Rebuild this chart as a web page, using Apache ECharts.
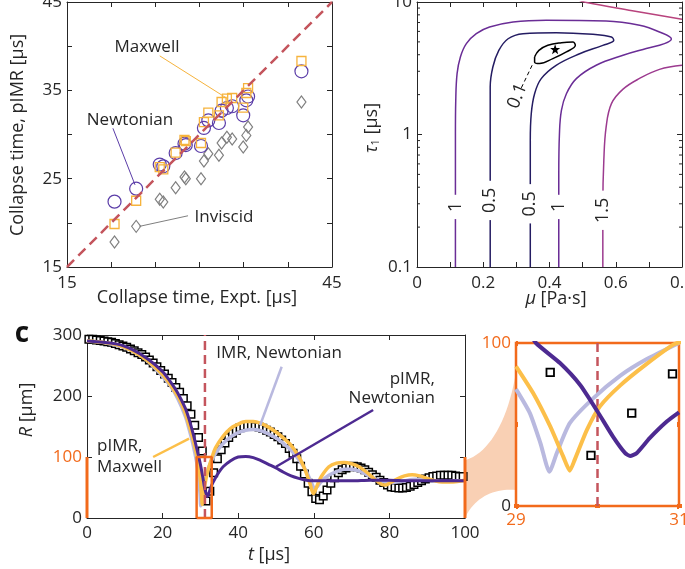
<!DOCTYPE html>
<html>
<head>
<meta charset="utf-8">
<script src="https://cdn.jsdelivr.net/npm/echarts@6/dist/echarts.min.js"></script>
<style>
  html, body { margin: 0; padding: 0; background: #fff; }
  #chart { width: 685px; height: 569px; }
</style>
</head>
<body>
<div id="chart"></div>
<script>
// ---- panel a: collapse times [us] ----
const exptTc      = [20.38, 22.83, 25.5, 25.9, 27.3, 28.3, 28.45, 30.17, 30.5, 31.0, 32.2, 32.5, 33.1, 33.7, 34.95, 35.3, 35.5, 41.54];
const newtonianTc = [22.4, 23.87, 26.6, 26.4, 27.9, 28.96, 28.8, 28.7, 30.74, 31.6, 31.3, 32.7, 33.0, 33.2, 32.17, 33.87, 34.3, 37.15];
const maxwellTc   = [19.87, 22.5, 26.3, 26.06, 27.94, 29.4, 29.25, 29.04, 31.4, 32.47, 32.17, 33.68, 34.06, 34.13, 33.04, 34.7, 35.26, 38.32];
const inviscidTc  = [17.83, 19.6, 22.66, 22.36, 23.98, 25.19, 25.0, 25.0, 27.0, 27.83, 27.64, 29.04, 29.7, 29.5, 28.58, 29.9, 30.85, 33.68];

// ---- panel b: error contours, [mu Pa.s, tau1 us] ----
const contour01 = [[0.355,3.85],[0.368,4.31],[0.395,4.71],[0.436,4.93],[0.471,4.99],[0.478,4.71],[0.451,4.2],[0.41,3.74],[0.37,3.43],[0.355,3.53],[0.355,3.85]];
const contour05 = [[0.221,0.1],[0.221,1.0],[0.221,2.28],[0.229,3.23],[0.247,4.31],[0.275,5.28],[0.32,5.77],[0.42,5.87],[0.531,5.7],[0.587,5.44],[0.594,5.14],[0.561,4.71],[0.491,4.07],[0.42,3.33],[0.375,2.64],[0.355,2.03],[0.345,1.44],[0.342,0.904],[0.342,0.1]];
const contour1  = [[0.116,0.1],[0.116,1.0],[0.117,1.81],[0.121,2.88],[0.131,3.85],[0.149,4.85],[0.179,5.77],[0.219,6.47],[0.29,7.06],[0.39,7.28],[0.571,7.19],[0.672,6.67],[0.732,5.94],[0.768,5.25],[0.747,4.85],[0.692,4.45],[0.622,3.96],[0.541,3.33],[0.481,2.64],[0.451,2.03],[0.436,1.52],[0.43,1.01],[0.428,0.5],[0.428,0.1]];
const contour15 = [[0.8,3.33],[0.732,3.1],[0.672,2.65],[0.622,2.2],[0.587,1.71],[0.571,1.14],[0.564,0.64],[0.561,0.3],[0.561,0.1]];
const contour2  = [[0.49,10.3],[0.512,9.9],[0.65,8.6],[0.8,7.4]];
const bestFit   = [[0.417, 4.4]];
const tauMinor  = [0.2,0.3,0.4,0.5,0.6,0.7,0.8,0.9,2,3,4,5,6,7,8,9];
const contourLabels = [
  { text: '1',   mu: 0.116, tau: 0.284, rot: 90, bg: true },
  { text: '0.5', mu: 0.221, tau: 0.318, rot: 90, bg: true },
  { text: '0.5', mu: 0.342, tau: 0.30,  rot: 90, bg: true },
  { text: '1',   mu: 0.428, tau: 0.284, rot: 90, bg: true },
  { text: '1.5', mu: 0.561, tau: 0.268, rot: 90, bg: true },
  { text: '0.1', mu: 0.303, tau: 1.95,  rot: 68, bg: false }
];

// ---- panel c: radius history R [um] vs t [us] ----
const exptR = [293,293,292,291,290,289,288,286,284,282,
               280,277,274,271,268,264,259,254,248,242,
               236,229,222,214,206,196,184,170,152,132,
               110,28,44,74,97,112,123,132,139,144,
               148,150,151,151,150,149,147,144,141,137,
               133,128,122,114,106,97,85,72,57,43,
               32,30,36,46,57,66,74,79,82,84,
               85,84,82,79,75,71,67,62,58,54,
               51,50,49,49,50,52,55,58,61,64,
               66,68,69,70,70,70,70,69,68,68];
const exptT = exptR.map((r, k) => k + 0.5);
const imrNewtonian = [[0,290],[5,287],[10,279],[15,263],[20,232],[22,217],[24,196],[26,167],[27,146],[28,122],[29,92],[29.5,70],[29.9,40],[30.1,20],[30.3,33],[30.7,50],[31.5,70],[32.5,88],[34,106],[36,122],[38,133],[40,140],[42,144],[44,145],[46,143],[48,138],[50,131],[52,122],[54,111],[56,96],[58,77],[59.5,56],[60.3,48],[61,52],[62,60],[64,70],[66,76],[68,80],[70,80],[72,77],[74,71],[76,65],[78,60],[80,58],[82,59],[84,61],[86,63],[88,64],[90,63],[92,61],[94,60],[96,60],[98,61],[100,61]];
const pimrMaxwell  = [[0,290],[4,288],[8,284],[12,274],[16,258],[20,235],[22,219],[24,200],[25,188],[26,172],[27,152],[28,130],[29,104],[29.6,82],[30,60],[30.3,38],[30.5,22],[30.7,32],[31.2,55],[32,78],[33,98],[34,115],[36,134],[38,147],[40,154],[42,158],[44,158],[46,155],[48,149],[50,141],[52,131],[54,119],[56,101],[57,89],[58,74],[59,56],[59.9,40],[61,55],[62,68],[64,84],[66,90],[68,91],[70,89],[72,84],[74,75],[76,64],[78,55],[79,54],[80,57],[82,64],[84,69],[86,71],[88,69],[90,65],[92,61],[94,59],[96,59],[98,60],[100,62]];
const pimrNewtonian = [[0,290],[8,285],[12,276],[16,261],[20,240],[22,224],[24,205],[26,180],[27,162],[28,140],[29,115],[30,88],[30.6,68],[31.1,50],[31.5,40],[31.8,35],[32.2,40],[33,54],[34,66],[35,76],[36,84],[38,94],[40,100],[42,101],[44,99],[46,94],[48,88],[50,82],[52,75],[54,69],[56,65],[58,62],[60,61],[65,61],[70,61],[75,62],[80,62],[85,61],[90,61],[95,61],[100,61]];
const collapseT = 31.2;

// ---- inset: zoom near collapse ----
const insetExpt = [[29.42,82],[29.92,31],[30.42,57],[30.92,81]];
const insetImr  = [[29,71.7],[29.17,57],[29.3,38.5],[29.41,21],[29.5,32.4],[29.66,50.8],[29.95,66.2],[30.28,80],[30.6,90],[31,100]];
const insetMax  = [[29,85.7],[29.21,69.3],[29.42,48.8],[29.58,30.3],[29.66,21.7],[29.72,28.3],[29.87,46.7],[30.03,61.1],[30.28,74],[30.6,87],[30.93,99],[31.05,101]];
const insetNewt = [[29.15,108],[29.245,100],[29.54,87.7],[29.785,74.4],[30.0,58],[30.19,42.6],[30.34,32.4],[30.4,30.7],[30.48,32.4],[30.64,41.6],[30.85,51.8],[31.0,57.4]];
const insetCollapseT = 30;

const FONT = 'Open Sans';
const INK = '#262626';
const ORANGE = '#f26a1b';
const RED = '#c4555d';
const PURPLE = '#4d2a91';
const CIRCLE = '#5b3da8';
const YELLOW = '#fcbf49';
const LAVENDER = '#b9b9df';
const GRAY = '#7f7f7f';

const zip = (a, b) => a.map((v, i) => [v, b[i]]);

function boxAxis (extra) {
  return Object.assign({
    type: 'value',
    axisLine: { show: true, onZero: false, lineStyle: { color: INK, width: 1 } },
    axisTick: { show: true, inside: true, length: 5, lineStyle: { color: INK, width: 1 } },
    axisLabel: { color: INK, fontSize: 17, fontFamily: FONT, margin: 6 },
    splitLine: { show: false }
  }, extra);
}
function mirror (extra) {
  const a = boxAxis(extra);
  a.axisLabel = { show: false };
  return a;
}
function label (x, y, text, opts) {
  return {
    type: 'text', x: x, y: y, z: 100,
    rotation: (opts && opts.rot) || 0,
    style: Object.assign({
      text: text, fill: INK, fontSize: 17, fontFamily: FONT,
      align: 'center', verticalAlign: 'middle'
    }, (opts && opts.style) || {})
  };
}
function ital (size) {
  return { fontStyle: 'italic', fontSize: size, fontFamily: FONT, fill: INK, color: INK };
}
function plain (size) {
  return { fontSize: size, fontFamily: FONT, fill: INK, color: INK };
}
function lineSeries (xi, data, color, width, extra) {
  return Object.assign({
    type: 'line', xAxisIndex: xi, yAxisIndex: xi, data: data,
    showSymbol: false, symbol: 'none', silent: true,
    lineStyle: { color: color, width: width }
  }, extra || {});
}
function hollow (color, width) {
  return { color: 'rgba(0,0,0,0)', borderColor: color, borderWidth: width, opacity: 1 };
}
// cubic bezier sampled to points, for the zoom fan outline
function bez (p0, p1, p2, p3, n) {
  const pts = [];
  for (let i = 0; i <= n; i++) {
    const s = i / n, u = 1 - s;
    pts.push([
      u * u * u * p0[0] + 3 * u * u * s * p1[0] + 3 * u * s * s * p2[0] + s * s * s * p3[0],
      u * u * u * p0[1] + 3 * u * u * s * p1[1] + 3 * u * s * s * p2[1] + s * s * s * p3[1]
    ]);
  }
  return pts;
}
const fanPts = bez([466, 460], [490, 452], [508, 420], [516, 372], 20)
  .concat(bez([516, 490], [496, 488], [476, 496], [466, 516], 20));

const chart = echarts.init(document.getElementById('chart'), null, { renderer: 'canvas' });

const option = {
  animation: false,
  backgroundColor: '#fff',
  textStyle: { fontFamily: FONT },
  grid: [
    { left: 67, top: 2, width: 265, height: 265, outerBoundsMode: 'none', containLabel: false },
    { left: 417, top: 2, width: 265, height: 265, outerBoundsMode: 'none', containLabel: false },
    { left: 87, top: 335, width: 378, height: 183, outerBoundsMode: 'none', containLabel: false },
    { left: 516, top: 343, width: 163, height: 163, outerBoundsMode: 'none', containLabel: false,
      show: true, borderColor: ORANGE, borderWidth: 2.5, backgroundColor: 'transparent' }
  ],
  xAxis: [
    boxAxis({ gridIndex: 0, min: 15, max: 45, interval: 5,
      axisLabel: { color: INK, fontSize: 17, fontFamily: FONT, margin: 8,
        formatter: v => (v === 15 || v === 45) ? String(v) : '' } }),
    mirror({ gridIndex: 0, min: 15, max: 45, interval: 5, position: 'top' }),
    boxAxis({ gridIndex: 1, min: 0, max: 0.8, interval: 0.1,
      axisLabel: { color: INK, fontSize: 17, fontFamily: FONT, margin: 8,
        formatter: v => (Math.round(v * 10) % 2 === 0) ? (v === 0 ? '0' : v.toFixed(1)) : '' } }),
    mirror({ gridIndex: 1, min: 0, max: 0.8, interval: 0.1, position: 'top' }),
    boxAxis({ gridIndex: 2, min: 0, max: 100, interval: 20,
      axisLabel: { color: INK, fontSize: 17, fontFamily: FONT, margin: 7 } }),
    mirror({ gridIndex: 2, min: 0, max: 100, interval: 20, position: 'top' }),
    { type: 'value', gridIndex: 3, min: 29, max: 31, interval: 1,
      axisLine: { show: false }, splitLine: { show: false },
      axisTick: { show: true, inside: true, length: 2, lineStyle: { color: ORANGE, width: 5 } },
      axisLabel: { color: ORANGE, fontSize: 17, fontFamily: FONT, margin: 6,
        formatter: v => v === 30 ? '' : String(v) } },
    { type: 'value', gridIndex: 3, min: 29, max: 31, interval: 1, position: 'top',
      axisLine: { show: false }, splitLine: { show: false }, axisLabel: { show: false },
      axisTick: { show: true, inside: true, length: 2, lineStyle: { color: ORANGE, width: 5 } } }
  ],
  yAxis: [
    boxAxis({ gridIndex: 0, min: 15, max: 45, interval: 5,
      axisLabel: { color: INK, fontSize: 17, fontFamily: FONT, margin: 5,
        formatter: v => ((v - 15) % 10 === 0) ? String(v) : '' } }),
    mirror({ gridIndex: 0, min: 15, max: 45, interval: 5, position: 'right' }),
    boxAxis({ gridIndex: 1, type: 'log', logBase: 10, min: 0.1, max: 10,
      axisLabel: { color: INK, fontSize: 17, fontFamily: FONT, margin: 5,
        formatter: v => v >= 1 ? String(Math.round(v)) : '0.1' } }),
    mirror({ gridIndex: 1, type: 'log', logBase: 10, min: 0.1, max: 10, position: 'right' }),
    boxAxis({ gridIndex: 2, min: 0, max: 300, interval: 100,
      axisLabel: { fontSize: 17, fontFamily: FONT, margin: 5,
        color: v => Number(v) === 100 ? ORANGE : INK } }),
    mirror({ gridIndex: 2, min: 0, max: 300, interval: 100, position: 'right' }),
    { type: 'value', gridIndex: 3, min: 0, max: 100, interval: 50,
      axisLine: { show: false }, splitLine: { show: false },
      axisTick: { show: true, inside: true, length: 2, lineStyle: { color: ORANGE, width: 5 } },
      axisLabel: { fontSize: 17, fontFamily: FONT, margin: 5,
        formatter: v => v === 50 ? '' : String(v),
        color: v => Number(v) === 100 ? ORANGE : INK } },
    { type: 'value', gridIndex: 3, min: 0, max: 100, interval: 50, position: 'right',
      axisLine: { show: false }, splitLine: { show: false }, axisLabel: { show: false },
      axisTick: { show: true, inside: true, length: 2, lineStyle: { color: ORANGE, width: 5 } } }
  ],
  series: [
    // panel a
    lineSeries(0, [[15, 15], [45, 45]], RED, 2.5, { lineStyle: { color: RED, width: 2.5, type: [10, 6] } }),
    { type: 'scatter', xAxisIndex: 0, yAxisIndex: 0, data: zip(exptTc, inviscidTc),
      symbol: 'diamond', symbolSize: [9, 12], silent: true, itemStyle: hollow(GRAY, 1.2) },
    { type: 'scatter', xAxisIndex: 0, yAxisIndex: 0, data: zip(exptTc, newtonianTc),
      symbol: 'circle', symbolSize: 13, silent: true, itemStyle: hollow(CIRCLE, 1.2) },
    { type: 'scatter', xAxisIndex: 0, yAxisIndex: 0, data: zip(exptTc, maxwellTc),
      symbol: 'rect', symbolSize: 9, silent: true, itemStyle: hollow('#f6b33c', 1.3) },
    lineSeries(0, [[25.5, 38.9], [33.1, 34.1]], '#f6b33c', 1),
    lineSeries(0, [[20.2, 30.7], [22.7, 24.3]], CIRCLE, 1),
    lineSeries(0, [[28.7, 20.8], [23.2, 19.6]], GRAY, 1),

    // panel b
    lineSeries(2, contour2, '#b8437d', 1.5, { smooth: 0.4 }),
    lineSeries(2, contour15, '#9c3a8f', 1.5, { smooth: 0.4 }),
    lineSeries(2, contour1, '#6a2d96', 1.5, { smooth: 0.4 }),
    lineSeries(2, contour05, '#241c62', 1.5, { smooth: 0.4 }),
    lineSeries(2, contour01, '#000', 1.5, { smooth: 0.4 }),
    lineSeries(2, [[0.315, 2.25], [0.35, 3.43]], '#000', 1, { lineStyle: { color: '#000', width: 1, type: [4, 3] } }),
    { type: 'scatter', xAxisIndex: 2, yAxisIndex: 2, z: 5, silent: true,
      data: contourLabels.map(d => ({
        value: [d.mu, d.tau],
        label: { show: true, position: 'inside', formatter: d.text, rotate: d.rot, opacity: 1,
          color: INK, fontSize: 18, fontFamily: FONT,
          backgroundColor: d.bg ? '#fff' : 'transparent', padding: [0, 7] }
      })),
      symbolSize: 1, itemStyle: { color: 'rgba(0,0,0,0)', opacity: 1 } },
    { type: 'scatter', xAxisIndex: 2, yAxisIndex: 2, data: bestFit, silent: true, z: 6,
      symbol: 'path://M0,-10 L2.4,-3.1 9.5,-3.1 3.8,1.2 5.9,8.1 0,4 -5.9,8.1 -3.8,1.2 -9.5,-3.1 -2.4,-3.1 Z',
      symbolSize: 10, itemStyle: { color: '#000', opacity: 1 } },
    { type: 'custom', xAxisIndex: 2, yAxisIndex: 2, silent: true,
      data: tauMinor.map(v => [0, v]),
      renderItem: (params, api) => {
        const l = api.coord([0, api.value(1)]);
        const r = api.coord([0.8, api.value(1)]);
        const st = { stroke: INK, lineWidth: 1 };
        return { type: 'group', children: [
          { type: 'line', shape: { x1: l[0], y1: l[1], x2: l[0] + 3, y2: l[1] }, style: st },
          { type: 'line', shape: { x1: r[0], y1: r[1], x2: r[0] - 3, y2: r[1] }, style: st }
        ] };
      } },

    // panel c
    { type: 'scatter', xAxisIndex: 4, yAxisIndex: 4, data: zip(exptT, exptR), silent: true,
      symbol: 'rect', symbolSize: 7.5,
      itemStyle: { color: '#fff', borderColor: '#000', borderWidth: 1.5, opacity: 1 } },
    lineSeries(4, imrNewtonian, LAVENDER, 3.5, { smooth: 0.3 }),
    lineSeries(4, pimrMaxwell, YELLOW, 3.5, { smooth: 0.3 }),
    lineSeries(4, pimrNewtonian, PURPLE, 3, { smooth: 0.3 }),
    lineSeries(4, [[collapseT, 0], [collapseT, 300]], RED, 2.5, { lineStyle: { color: RED, width: 2.5, type: [9, 5] } }),
    lineSeries(4, [[29, 0], [33, 0], [33, 100], [29, 100], [29, 0]], ORANGE, 2.5, { clip: false }),
    lineSeries(4, [[0, 0], [0, 100]], ORANGE, 3, { clip: false }),
    lineSeries(4, [[100, 0], [100, 100]], ORANGE, 3, { clip: false }),
    lineSeries(4, [[51.5, 248], [45.8, 152]], LAVENDER, 2.5),
    lineSeries(4, [[75.7, 177], [50, 84]], PURPLE, 2.5),
    lineSeries(4, [[17.5, 100], [27, 130]], YELLOW, 2.5),

    // inset
    lineSeries(6, [[insetCollapseT, 0], [insetCollapseT, 100]], RED, 2.5, { lineStyle: { color: RED, width: 2.5, type: [9, 5] } }),
    lineSeries(6, insetImr, LAVENDER, 4, { smooth: 0.2 }),
    lineSeries(6, insetMax, YELLOW, 4, { smooth: 0.2 }),
    lineSeries(6, insetNewt, PURPLE, 4, { smooth: 0.2 }),
    { type: 'scatter', xAxisIndex: 6, yAxisIndex: 6, data: insetExpt, silent: true,
      symbol: 'rect', symbolSize: 7.5,
      itemStyle: { color: '#fff', borderColor: '#000', borderWidth: 1.8, opacity: 1 } }
  ],
  graphic: [
    { type: 'polygon', z: -1, shape: { points: fanPts }, style: { fill: '#f9d0b4' } },
    label(147, 47, 'Maxwell'),
    label(130, 120, 'Newtonian'),
    label(224, 217, 'Inviscid'),
    label(279, 353, 'IMR, Newtonian'),
    label(435, 389, 'pIMR,\nNewtonian', { style: { align: 'right', lineHeight: 19 } }),
    label(97, 457, 'pIMR,\nMaxwell', { style: { align: 'left', lineHeight: 21 } }),
    label(197, 298, 'Collapse time, Expt. [μs]', { style: { fontSize: 18 } }),
    label(18, 135, 'Collapse time, pIMR [μs]', { rot: Math.PI / 2, style: { fontSize: 18 } }),
    label(556, 299, '{i|μ}{p| [Pa·s]}', { style: { rich: { i: ital(18), p: plain(18) } } }),
    label(372, 128, '{i|τ}{s|1}{p| [μs]}', { rot: Math.PI / 2,
      style: { rich: { i: ital(18), s: Object.assign(plain(11), { verticalAlign: 'bottom', padding: [8, 0, 0, 0] }), p: plain(18) } } }),
    label(269, 555, '{i|t}{p| [μs]}', { style: { rich: { i: ital(18), p: plain(18) } } }),
    label(27, 410, '{i|R}{p| [μm]}', { rot: Math.PI / 2, style: { rich: { i: ital(18), p: plain(18) } } }),
    label(22, 334, 'c', { style: { fontSize: 28, fontWeight: 'bold', fill: '#111' } })
  ]
};

chart.setOption(option);
</script>
</body>
</html>
